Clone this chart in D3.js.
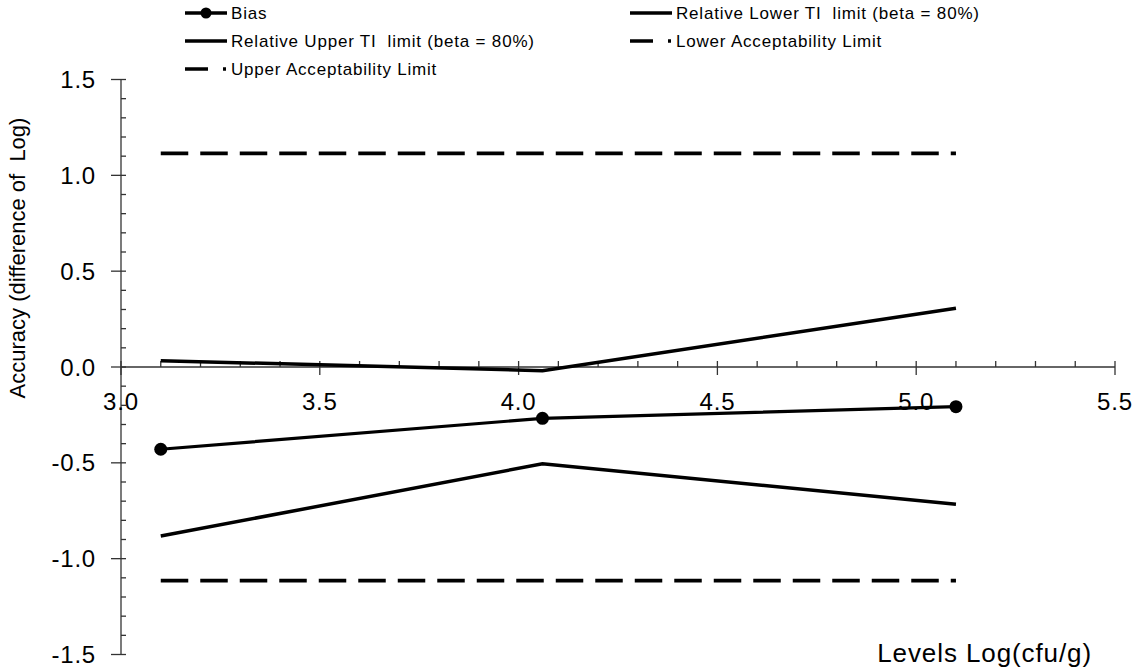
<!DOCTYPE html>
<html>
<head>
<meta charset="utf-8">
<script src="https://cdn.jsdelivr.net/npm/d3@7"></script>
<style>
  html, body { margin: 0; padding: 0; background: #fff; }
  svg { display: block; font-family: "Liberation Sans", Arial, sans-serif; }
  text { white-space: pre; }
</style>
</head>
<body>
<svg id="chart" width="1138" height="669"></svg>
<script>
// Concentration levels (log cfu/g)
const levels = [3.1, 4.06, 5.1];
// Bias and relative tolerance interval limits at each level
const bias = [-0.429, -0.268, -0.207];
const upperTI = [0.033, -0.019, 0.306];
const lowerTI = [-0.882, -0.505, -0.716];
// Acceptability limits
const lowerAcceptance = [-1.115, -1.115, -1.115];
const upperAcceptance = [1.115, 1.115, 1.115];

const xTicks = [3.0, 3.5, 4.0, 4.5, 5.0, 5.5];
const yTicks = [1.5, 1.0, 0.5, 0.0, -0.5, -1.0, -1.5];

const svg = d3.select("#chart");
const x = d3.scaleLinear().domain([3.0, 5.5]).range([121, 1115]);
const y = d3.scaleLinear().domain([-1.5, 1.5]).range([654.5, 79.5]);
const fmt = v => d3.format(".1f")(v).replace("\u2212", "-");

const line = d3.line().x(d => x(d[0])).y(d => y(d[1]));
const pairs = vals => levels.map((l, i) => [l, vals[i]]);

// ---- Y axis (vertical line at x = 3.0) ----
const yAxis = svg.append("g").attr("stroke", "#333").attr("stroke-width", 1.3);
yAxis.append("line").attr("x1", x(3)).attr("x2", x(3)).attr("y1", y(1.5)).attr("y2", y(-1.5));
d3.range(-15, 16).forEach(k => {
  const v = k / 10;
  const major = k % 5 === 0;
  yAxis.append("line")
    .attr("x1", x(3) - (major ? 10 : 0)).attr("x2", x(3) + 5)
    .attr("y1", y(v)).attr("y2", y(v));
});
svg.append("g").selectAll("text").data(yTicks).join("text")
  .attr("x", 96).attr("y", d => y(d)).attr("dy", "0.36em")
  .attr("text-anchor", "end").attr("font-size", 24).attr("letter-spacing", 0.8).attr("fill", "#000")
  .text(fmt);

// ---- X axis (horizontal line at y = 0) ----
const xAxis = svg.append("g").attr("stroke", "#333").attr("stroke-width", 1.3);
xAxis.append("line").attr("x1", x(3)).attr("x2", x(5.5)).attr("y1", y(0)).attr("y2", y(0));
d3.range(30, 56).forEach(k => {
  const v = k / 10;
  const major = k % 5 === 0;
  xAxis.append("line")
    .attr("x1", x(v)).attr("x2", x(v))
    .attr("y1", y(0) - 6).attr("y2", y(0) + (major ? 8 : 0));
});
svg.append("g").selectAll("text").data(xTicks).join("text")
  .attr("x", d => x(d)).attr("y", 410)
  .attr("text-anchor", "middle").attr("font-size", 24).attr("letter-spacing", 0.8).attr("fill", "#000")
  .text(fmt);

// ---- Axis titles ----
svg.append("text")
  .attr("transform", "translate(25,258) rotate(-90)")
  .attr("text-anchor", "middle").attr("font-size", 22).attr("fill", "#000")
  .text("Accuracy (difference of  Log)");
svg.append("text")
  .attr("x", 1092).attr("y", 662)
  .attr("text-anchor", "end").attr("font-size", 26).attr("letter-spacing", 0.9).attr("fill", "#000")
  .text("Levels Log(cfu/g)");

// ---- Series ----
const dashed = "27.5,12";
svg.append("path").datum(pairs(upperAcceptance)).attr("d", line)
  .attr("fill", "none").attr("stroke", "#000").attr("stroke-width", 3.8).attr("stroke-dasharray", dashed);
svg.append("path").datum(pairs(lowerAcceptance)).attr("d", line)
  .attr("fill", "none").attr("stroke", "#000").attr("stroke-width", 3.8).attr("stroke-dasharray", dashed);
svg.append("path").datum(pairs(upperTI)).attr("d", line)
  .attr("fill", "none").attr("stroke", "#000").attr("stroke-width", 3.5);
svg.append("path").datum(pairs(lowerTI)).attr("d", line)
  .attr("fill", "none").attr("stroke", "#000").attr("stroke-width", 3.5);
svg.append("path").datum(pairs(bias)).attr("d", line)
  .attr("fill", "none").attr("stroke", "#000").attr("stroke-width", 3.2);
svg.append("g").selectAll("circle").data(pairs(bias)).join("circle")
  .attr("cx", d => x(d[0])).attr("cy", d => y(d[1])).attr("r", 6.5).attr("fill", "#000");

// ---- Legend ----
const legendItems = [
  { label: "Bias", col: 0, row: 0, dash: null, marker: true },
  { label: "Relative Lower TI  limit (beta = 80%)", col: 1, row: 0, dash: null },
  { label: "Relative Upper TI  limit (beta = 80%)", col: 0, row: 1, dash: null },
  { label: "Lower Acceptability Limit", col: 1, row: 1, dash: "23,15,3,100" },
  { label: "Upper Acceptability Limit", col: 0, row: 2, dash: "23,15,3,100" }
];
const colX = [185, 630];
const rowY = [13, 41, 69];
const lg = svg.append("g");
legendItems.forEach(it => {
  const x0 = colX[it.col], yy = rowY[it.row];
  lg.append("line").attr("x1", x0).attr("x2", x0 + 42).attr("y1", yy).attr("y2", yy)
    .attr("stroke", "#000").attr("stroke-width", 3.5)
    .attr("stroke-dasharray", it.dash);
  if (it.marker) lg.append("circle").attr("cx", x0 + 21).attr("cy", yy).attr("r", 5.5).attr("fill", "#000");
  lg.append("text").attr("x", x0 + 46).attr("y", yy).attr("dy", "0.36em")
    .attr("font-size", 17).attr("letter-spacing", 0.8).attr("fill", "#000").text(it.label);
});
</script>
</body>
</html>
